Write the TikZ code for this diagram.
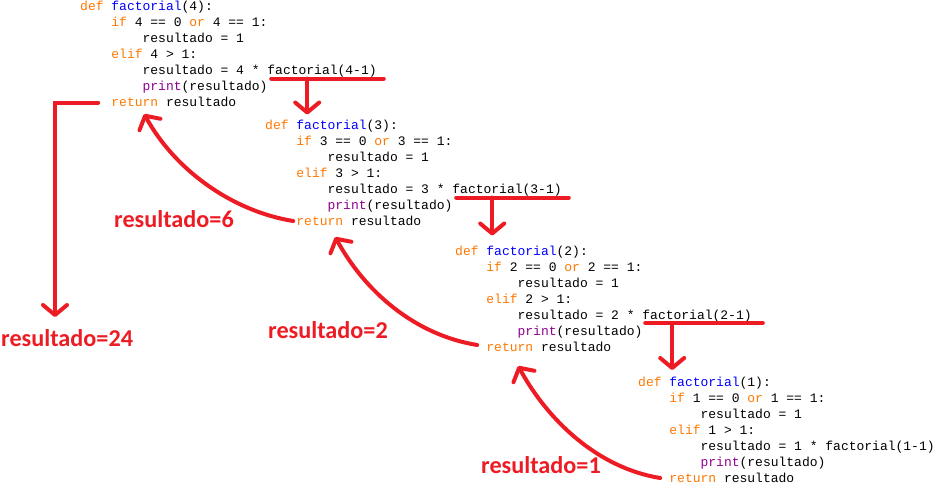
\documentclass[tikz,border=0pt]{standalone}
\usepackage{fontspec}
\usepackage{tikz}
\usetikzlibrary{arrows.meta}
\newfontfamily\codefont{Liberation Mono}
\newfontfamily\notefont{Carlito}
\definecolor{paintred}{RGB}{237,28,36}
\definecolor{kwdorange}{RGB}{255,119,0}
\definecolor{fnameblue}{RGB}{0,0,255}
\definecolor{bltinpurple}{RGB}{144,0,144}
\newcommand{\kwd}[1]{\textcolor{kwdorange}{#1}}
\newcommand{\fname}[1]{\textcolor{fnameblue}{#1}}
\newcommand{\bltin}[1]{\textcolor{bltinpurple}{#1}}
\tikzset{
    x=1pt, y=-1pt, % one unit is one pixel of the screenshot, y goes down
    code/.style={anchor=base west, inner sep=0pt, font=\codefont\fontsize{13}{16}\selectfont}, % one line of python
    note/.style={anchor=base west, inner sep=0pt, text=paintred, font=\notefont\bfseries\fontsize{24.2}{28}\selectfont}, % red value labels
    redline/.style={draw=paintred, line width=4pt, line cap=round}, % the hand drawn strokes
    redarrow/.style={redline, -{Straight Barb[length=10pt, width=24pt, round]}}, % strokes with a head
}

\begin{document}
\begin{tikzpicture}
    \useasboundingbox (0,0) rectangle (942,488);
    % factorial(4)
    \node[code] (def4) at (80,10.5) {\kwd{def} \fname{factorial}(4):};
    \node[code] (if4) at (111.2,26.5) {\kwd{if} 4 == 0 \kwd{or} 4 == 1:};
    \node[code] (one4) at (142.4,42.5) {resultado = 1};
    \node[code] (elif4) at (111.2,58.5) {\kwd{elif} 4 > 1:};
    \node[code] (mul4) at (142.4,74.5) {resultado = 4 *};
    \node[code] (call4) at (267.2,74.5) {factorial(4-1)};
    \node[code] (print4) at (142.4,90.5) {\bltin{print}(resultado)};
    \node[code] (ret4) at (111.2,106.5) {\kwd{return} resultado};
    % factorial(3)
    \node[code] (def3) at (265,129.5) {\kwd{def} \fname{factorial}(3):};
    \node[code] (if3) at (296.2,145.5) {\kwd{if} 3 == 0 \kwd{or} 3 == 1:};
    \node[code] (one3) at (327.4,161.5) {resultado = 1};
    \node[code] (elif3) at (296.2,177.5) {\kwd{elif} 3 > 1:};
    \node[code] (mul3) at (327.4,193.5) {resultado = 3 *};
    \node[code] (call3) at (452.2,193.5) {factorial(3-1)};
    \node[code] (print3) at (327.4,209.5) {\bltin{print}(resultado)};
    \node[code] (ret3) at (296.2,225.5) {\kwd{return} resultado};
    % factorial(2)
    \node[code] (def2) at (455,255) {\kwd{def} \fname{factorial}(2):};
    \node[code] (if2) at (486.2,271) {\kwd{if} 2 == 0 \kwd{or} 2 == 1:};
    \node[code] (one2) at (517.4,287) {resultado = 1};
    \node[code] (elif2) at (486.2,303) {\kwd{elif} 2 > 1:};
    \node[code] (mul2) at (517.4,319) {resultado = 2 *};
    \node[code] (call2) at (642.2,319) {factorial(2-1)};
    \node[code] (print2) at (517.4,335) {\bltin{print}(resultado)};
    \node[code] (ret2) at (486.2,351) {\kwd{return} resultado};
    % factorial(1)
    \node[code] (def1) at (638,386.5) {\kwd{def} \fname{factorial}(1):};
    \node[code] (if1) at (669.2,402.5) {\kwd{if} 1 == 0 \kwd{or} 1 == 1:};
    \node[code] (one1) at (700.4,418.5) {resultado = 1};
    \node[code] (elif1) at (669.2,434.5) {\kwd{elif} 1 > 1:};
    \node[code] (mul1) at (700.4,450.5) {resultado = 1 * factorial(1-1)};
    \node[code] (print1) at (700.4,466.5) {\bltin{print}(resultado)};
    \node[code] (ret1) at (669.2,482.5) {\kwd{return} resultado};
    % values handed back
    \node[note] (res6) at (114,227) {resultado=6};
    \node[note] (res2) at (268,338) {resultado=2};
    \node[note] (res1) at (481,473) {resultado=1};
    \node[note] (res24) at (1,346) {resultado=24};
    % calls going down
    \draw[redline] ([shift={(4,4)}]call4.base west) -- ([shift={(7,4)}]call4.base east);
    \draw[redline] ([shift={(4,4)}]call3.base west) -- ([shift={(7,4)}]call3.base east);
    \draw[redline] ([shift={(3,4)}]call2.base west) -- ([shift={(11,4)}]call2.base east);
    \draw[redarrow] ([shift={(40,4)}]call4.base west) -- ++(0,36);
    \draw[redarrow] ([shift={(40,4)}]call3.base west) -- ++(0,38);
    \draw[redarrow] ([shift={(30,4)}]call2.base west) -- ++(0,47);
    % returns going up
    \draw[redarrow] ([shift={(-9,-4.5)}]ret1.base west) .. controls +(-62,-10) and +(30,55) .. ([shift={(32,15)}]ret2.base west);
    \draw[redarrow] ([shift={(-9,-6)}]ret2.base west) .. controls +(-62,-10) and +(30,55) .. ([shift={(39,11.5)}]ret3.base west);
    \draw[redarrow] ([shift={(-3,-4.5)}]ret3.base west) .. controls +(-62,-10) and +(30,55) .. ([shift={(33,7.5)}]ret4.base west);
    \draw[redarrow] ([shift={(-13,-4)}]ret4.base west) -| ([shift={(54,-29)}]res24.base west);
\end{tikzpicture}
\end{document}
